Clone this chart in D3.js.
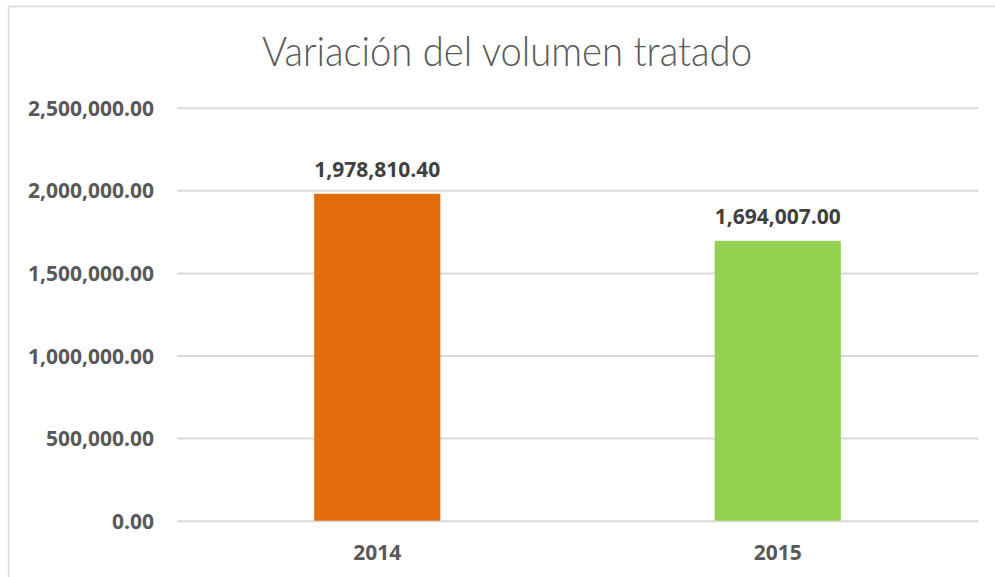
<!doctype html>
<html>
<head>
<meta charset="UTF-8">
<title>Variación del volumen tratado</title>
<script src="https://d3js.org/d3.v7.min.js"></script>
<style>
  body { margin: 0; background: #fff; }
  svg { display: block; }
  .tick text { font-family: "Open Sans", "Liberation Sans", sans-serif; font-weight: 700; }
</style>
</head>
<body>
<svg id="chart" width="995" height="577"></svg>
<script>
// data
var years = ["2014", "2015"];
var volumes = [1978810.40, 1694007.00];
var barColors = ["#E36C0A", "#92D050"];
var yTicks = [0, 500000, 1000000, 1500000, 2000000, 2500000];

// plot area (note: "top" is reserved on window, so prefixed names)
var plotLeft = 177, plotRight = 978, plotTop = 107.7, plotBottom = 520.7;

var svg = d3.select("#chart");

// chart frame (runs off the right and bottom edge)
svg.append("rect")
  .attr("x", 8.5).attr("y", 6.5)
  .attr("width", 1100).attr("height", 700)
  .attr("fill", "#fff")
  .attr("stroke", "#d9d9d9")
  .attr("stroke-width", 1.5);

var x = d3.scaleBand().domain(years).range([plotLeft, plotRight]);
var y = d3.scaleLinear().domain([0, 2500000]).range([plotBottom, plotTop]);
var fmt = d3.format(",.2f");

// y axis with gridlines
var yAxis = svg.append("g")
  .attr("transform", "translate(" + plotLeft + ",0)")
  .call(d3.axisLeft(y).tickValues(yTicks).tickFormat(fmt)
    .tickSizeInner(-(plotRight - plotLeft)).tickSizeOuter(0).tickPadding(23));
yAxis.select(".domain").remove();
yAxis.selectAll(".tick line").attr("stroke", "#d9d9d9").attr("stroke-width", 2);
yAxis.selectAll(".tick text")
  .attr("fill", "#595959").attr("font-size", 21).attr("dy", "0.36em");

// x axis labels
var xAxis = svg.append("g")
  .attr("transform", "translate(0," + plotBottom + ")")
  .call(d3.axisBottom(x).tickSize(0).tickPadding(24));
xAxis.select(".domain").remove();
xAxis.selectAll(".tick text")
  .attr("fill", "#595959").attr("font-size", 21);

// bars
var barW = x.bandwidth() * 0.315;
svg.selectAll("rect.bar")
  .data(volumes)
  .enter().append("rect")
  .attr("class", "bar")
  .attr("x", function(d, i) { return x(years[i]) + x.bandwidth() / 2 - barW / 2; })
  .attr("y", function(d) { return y(d); })
  .attr("width", barW)
  .attr("height", function(d) { return plotBottom - y(d); })
  .attr("fill", function(d, i) { return barColors[i]; });

// value labels
svg.selectAll("text.val")
  .data(volumes)
  .enter().append("text")
  .attr("class", "val")
  .attr("x", function(d, i) { return x(years[i]) + x.bandwidth() / 2; })
  .attr("y", function(d) { return y(d) - 17; })
  .attr("text-anchor", "middle")
  .attr("font-family", "'Open Sans', 'Liberation Sans', sans-serif")
  .attr("font-weight", 700)
  .attr("font-size", 21)
  .attr("fill", "#404040")
  .text(function(d) { return fmt(d); });

// title
svg.append("text")
  .attr("x", 507).attr("y", 66)
  .attr("text-anchor", "middle")
  .attr("font-family", "Lato, 'Noto Sans', sans-serif")
  .attr("font-weight", 300)
  .attr("font-size", 42)
  .attr("fill", "#595959")
  .attr("textLength", 490)
  .attr("lengthAdjust", "spacingAndGlyphs")
  .text("Variación del volumen tratado");
</script>
</body>
</html>
